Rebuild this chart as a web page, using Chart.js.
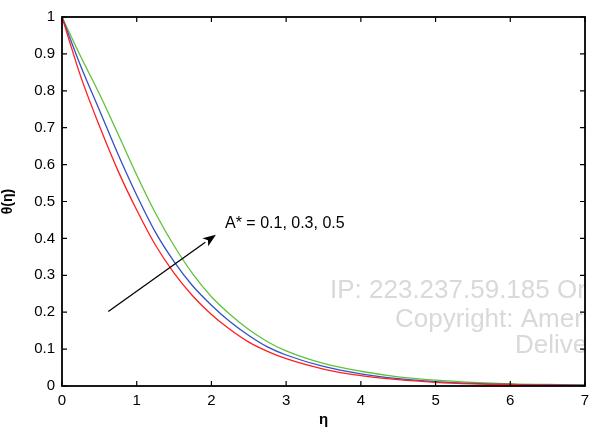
<!DOCTYPE html>
<html>
<head>
<meta charset="utf-8">
<script src="https://cdn.jsdelivr.net/npm/chart.js@4.4.1/dist/chart.umd.min.js"></script>
<style>
  html, body { margin: 0; padding: 0; background: #fff; }
  #wrap { width: 589px; height: 429px; }
</style>
</head>
<body>
<div id="wrap"><canvas id="grafico" width="589" height="429"></canvas></div>
<script>
// eta grid and temperature profiles
const eta = [0, 0.25, 0.5, 0.75, 1, 1.25, 1.5, 1.75, 2, 2.25, 2.5, 2.75, 3, 3.5, 4, 4.5, 5, 5.5, 6, 6.5, 7];
const thetaA01 = [1, 0.839, 0.705, 0.583, 0.477, 0.382, 0.306, 0.244, 0.194, 0.153, 0.119, 0.094, 0.074, 0.046, 0.028, 0.017, 0.01, 0.006, 0.004, 0.002, 0.001];
const thetaA03 = [1, 0.867, 0.748, 0.628, 0.517, 0.417, 0.337, 0.271, 0.219, 0.174, 0.137, 0.106, 0.084, 0.053, 0.033, 0.02, 0.012, 0.007, 0.004, 0.003, 0.002];
const thetaA05 = [1, 0.893, 0.792, 0.683, 0.572, 0.469, 0.38, 0.304, 0.242, 0.194, 0.153, 0.12, 0.095, 0.061, 0.04, 0.025, 0.016, 0.01, 0.006, 0.004, 0.003];
const xTicks = [0, 1, 2, 3, 4, 5, 6, 7];
const yTicks = [0, 0.1, 0.2, 0.3, 0.4, 0.5, 0.6, 0.7, 0.8, 0.9, 1];

// arrow annotation (data coords) and label
const arrowFrom = { x: 0.62, y: 0.202 };
const arrowTo = { x: 2.06, y: 0.41 };
const arrowLabel = 'A* = 0.1, 0.3, 0.5';
const watermark = ['IP: 223.237.59.185 On: Mon, 01 Jan', 'Copyright: American Scientific Publishers', 'Delivered by Ingenta'];

const FONT = '"Liberation Sans", Arial, Helvetica, sans-serif';

function pts(ys) {
    return eta.map((x, i) => ({ x: x, y: ys[i] }));
}

function serie(ys, color) {
    return {
        data: pts(ys),
        borderColor: color,
        backgroundColor: color,
        borderWidth: 1.3,
        pointRadius: 0,
        tension: 0.4,
        cubicInterpolationMode: 'monotone',
        fill: false,
    };
}

const moldura = {
    id: 'moldura',
    beforeDatasetsDraw(chart) {
        // watermark sits behind the curves, clipped at the frame
        const ctx = chart.ctx;
        const a = chart.chartArea;
        ctx.save();
        ctx.beginPath();
        ctx.rect(a.left, a.top, a.right - a.left, a.bottom - a.top);
        ctx.clip();
        ctx.fillStyle = '#d9d9d9';
        ctx.font = '26px ' + FONT;
        ctx.textBaseline = 'alphabetic';
        ctx.fillText(watermark[0], 330, 298);
        ctx.fillText(watermark[1], 395, 327);
        ctx.fillText(watermark[2], 515, 353);
        ctx.restore();
    },
    afterDatasetsDraw(chart) {
        const ctx = chart.ctx;
        const a = chart.chartArea;
        const xs = chart.scales.x;
        const ys = chart.scales.y;
        ctx.save();
        ctx.strokeStyle = '#000';
        ctx.lineWidth = 1.8;
        ctx.strokeRect(a.left, a.top, a.right - a.left, a.bottom - a.top);
        ctx.lineWidth = 1.2;
        const tl = 5;
        ctx.beginPath();
        xTicks.forEach(v => {
            const px = xs.getPixelForValue(v);
            ctx.moveTo(px, a.bottom); ctx.lineTo(px, a.bottom - tl);
            ctx.moveTo(px, a.top); ctx.lineTo(px, a.top + tl);
        });
        yTicks.forEach(v => {
            const py = ys.getPixelForValue(v);
            ctx.moveTo(a.left, py); ctx.lineTo(a.left + tl, py);
            ctx.moveTo(a.right, py); ctx.lineTo(a.right - tl, py);
        });
        ctx.stroke();

        // arrow
        const x0 = xs.getPixelForValue(arrowFrom.x), y0 = ys.getPixelForValue(arrowFrom.y);
        const x1 = xs.getPixelForValue(arrowTo.x), y1 = ys.getPixelForValue(arrowTo.y);
        const ang = Math.atan2(y1 - y0, x1 - x0);
        const hl = 13, hw = 5;
        ctx.lineWidth = 1.3;
        ctx.beginPath();
        ctx.moveTo(x0, y0);
        ctx.lineTo(x1 - hl * Math.cos(ang), y1 - hl * Math.sin(ang));
        ctx.stroke();
        ctx.fillStyle = '#000';
        ctx.beginPath();
        ctx.moveTo(x1, y1);
        ctx.lineTo(x1 - hl * Math.cos(ang) + hw * Math.sin(ang), y1 - hl * Math.sin(ang) - hw * Math.cos(ang));
        ctx.lineTo(x1 - hl * 0.75 * Math.cos(ang), y1 - hl * 0.75 * Math.sin(ang));
        ctx.lineTo(x1 - hl * Math.cos(ang) - hw * Math.sin(ang), y1 - hl * Math.sin(ang) + hw * Math.cos(ang));
        ctx.closePath();
        ctx.fill();

        ctx.font = '16px ' + FONT;
        ctx.textBaseline = 'alphabetic';
        ctx.fillText(arrowLabel, 225, 228);
        ctx.restore();
    }
};

const config = {
    type: 'line',
    data: {
        datasets: [
            serie(thetaA01, '#ff1f1f'),
            serie(thetaA03, '#3450c4'),
            serie(thetaA05, '#5fc23a'),
        ]
    },
    options: {
        responsive: false,
        animation: false,
        devicePixelRatio: 1,
        layout: { autoPadding: false, padding: { left: 0, right: 4, top: 17, bottom: 0 } },
        scales: {
            x: {
                type: 'linear',
                min: 0, max: 7,
                afterBuildTicks: s => { s.ticks = xTicks.map(v => ({ value: v })); },
                afterFit: s => { s.height = 43; s.paddingLeft = 0; s.paddingRight = 0; },
                grid: { display: false, drawTicks: false },
                border: { display: false },
                ticks: { color: '#000', font: { family: FONT, size: 15 }, padding: 6, maxRotation: 0 },
                title: { display: true, text: 'η', color: '#000', font: { family: FONT, size: 15, weight: 'bold' }, padding: { top: 0, bottom: 0 } }
            },
            y: {
                type: 'linear',
                min: 0, max: 1,
                afterBuildTicks: s => { s.ticks = yTicks.map(v => ({ value: v })); },
                afterFit: s => { s.width = 62; s.paddingTop = 0; s.paddingBottom = 0; },
                grid: { display: false, drawTicks: false },
                border: { display: false },
                ticks: {
                    color: '#000', font: { family: FONT, size: 15 }, padding: 7,
                    callback: v => String(Math.round(v * 10) / 10)
                },
                title: { display: true, text: 'θ(η)', color: '#000', font: { family: FONT, size: 14, weight: 'bold' }, padding: { top: 0, bottom: 0 } }
            }
        },
        plugins: {
            legend: { display: false },
            tooltip: { enabled: false },
        },
    },
    plugins: [moldura],
};

const grafico = new Chart(document.getElementById('grafico'), config);
</script>
</body>
</html>
